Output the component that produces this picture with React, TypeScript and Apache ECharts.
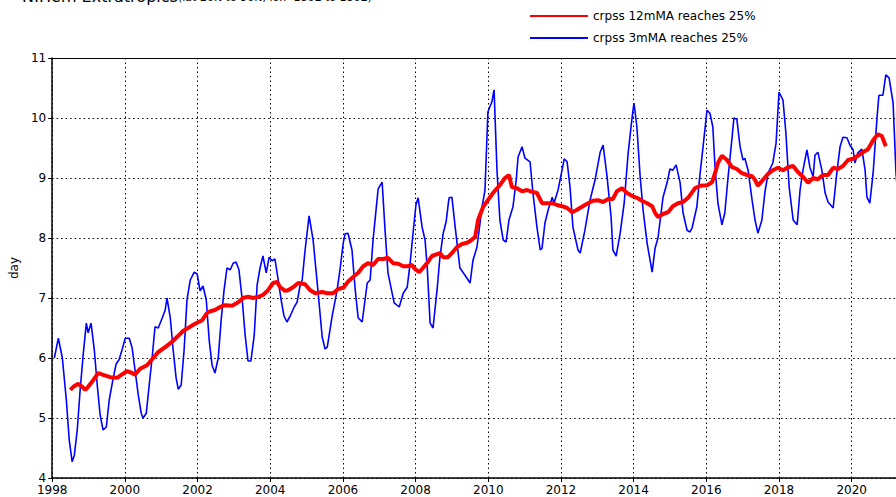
import React, { useEffect, useRef } from "react";
import * as echarts from "echarts";

const xTicks = [1998, 2000, 2002, 2004, 2006, 2008, 2010, 2012, 2014, 2016, 2018, 2020];
const yTicks = [4, 5, 6, 7, 8, 9, 10, 11];

const blueYears = [
  1998.06, 1998.17, 1998.28, 1998.39, 1998.47, 1998.55, 1998.61, 1998.69, 1998.77, 1998.85, 1998.94, 1998.99,
  1999.07, 1999.16, 1999.24, 1999.32, 1999.4, 1999.49, 1999.57, 1999.68, 1999.76, 1999.84, 1999.93,
  2000.01, 2000.12, 2000.2, 2000.28, 2000.37, 2000.45, 2000.5, 2000.59, 2000.67, 2000.75, 2000.83, 2000.92,
  2001.03, 2001.11, 2001.16, 2001.25, 2001.33, 2001.41, 2001.47, 2001.55, 2001.63, 2001.71, 2001.8, 2001.91, 2001.99,
  2002.07, 2002.15, 2002.24, 2002.32, 2002.4, 2002.48, 2002.57, 2002.65, 2002.73, 2002.81, 2002.9, 2002.98,
  2003.06, 2003.14, 2003.23, 2003.31, 2003.39, 2003.47, 2003.56, 2003.64, 2003.72, 2003.8, 2003.89, 2003.97,
  2004.05, 2004.13, 2004.22, 2004.3, 2004.38, 2004.46, 2004.55, 2004.66, 2004.74, 2004.82, 2004.88, 2004.96,
  2005.07, 2005.18, 2005.32, 2005.43, 2005.51, 2005.57, 2005.7, 2005.84, 2005.92,
  2006.01, 2006.06, 2006.14, 2006.25, 2006.34, 2006.42, 2006.53, 2006.67, 2006.75, 2006.83, 2006.97,
  2007.08, 2007.16, 2007.24, 2007.41, 2007.55, 2007.66, 2007.77, 2007.85, 2007.93,
  2008.01, 2008.07, 2008.18, 2008.26, 2008.32, 2008.4, 2008.48, 2008.59, 2008.67, 2008.76, 2008.84, 2008.92,
  2009.0, 2009.09, 2009.22, 2009.36, 2009.5, 2009.58, 2009.69, 2009.83, 2009.91, 2009.99,
  2010.1, 2010.16, 2010.24, 2010.32, 2010.41, 2010.49, 2010.57, 2010.68, 2010.77, 2010.82, 2010.93,
  2011.01, 2011.15, 2011.23, 2011.34, 2011.43, 2011.48, 2011.56, 2011.65, 2011.76, 2011.81, 2011.92,
  2012.03, 2012.09, 2012.17, 2012.25, 2012.33, 2012.47, 2012.53, 2012.66, 2012.8, 2012.94,
  2013.08, 2013.16, 2013.27, 2013.38, 2013.43, 2013.52, 2013.63, 2013.74, 2013.85, 2013.96,
  2014.01, 2014.09, 2014.18, 2014.26, 2014.37, 2014.51, 2014.59, 2014.67, 2014.81, 2014.92,
  2015.0, 2015.08, 2015.17, 2015.28, 2015.36, 2015.47, 2015.55, 2015.61, 2015.74, 2015.83, 2015.91,
  2016.02, 2016.1, 2016.18, 2016.24, 2016.32, 2016.43, 2016.51, 2016.6, 2016.71, 2016.76, 2016.84, 2016.93,
  2017.01, 2017.06, 2017.15, 2017.26, 2017.34, 2017.42, 2017.53, 2017.61, 2017.7, 2017.83, 2017.92,
  2018.0, 2018.11, 2018.19, 2018.28, 2018.39, 2018.5, 2018.58, 2018.66, 2018.77, 2018.85, 2018.94, 2018.99,
  2019.07, 2019.18, 2019.27, 2019.35, 2019.49, 2019.6, 2019.68, 2019.76, 2019.87, 2019.95,
  2020.04, 2020.09, 2020.17, 2020.28, 2020.37, 2020.42, 2020.5, 2020.59, 2020.7, 2020.75, 2020.86, 2020.94,
  2021.03, 2021.14, 2021.22, 2021.3,
];
const blueValues = [
  6.0, 6.33, 6.0, 5.3, 4.63, 4.27, 4.38, 4.8, 5.47, 6.03, 6.58, 6.42,
  6.58, 6.13, 5.55, 5.05, 4.8, 4.85, 5.3, 5.67, 5.9, 5.97, 6.15,
  6.33, 6.33, 6.17, 5.8, 5.38, 5.08, 5.0, 5.08, 5.55, 6.0, 6.52, 6.5,
  6.67, 6.8, 7.0, 6.67, 6.13, 5.67, 5.48, 5.55, 6.13, 6.97, 7.3, 7.43, 7.4,
  7.12, 7.2, 6.97, 6.3, 5.88, 5.75, 6.0, 6.63, 7.13, 7.5, 7.47, 7.58,
  7.6, 7.47, 6.97, 6.38, 5.95, 5.95, 6.38, 7.22, 7.5, 7.7, 7.42, 7.68,
  7.62, 7.65, 7.3, 6.97, 6.7, 6.6, 6.7, 6.85, 6.93, 7.2, 7.3, 7.8,
  8.37, 7.97, 7.08, 6.35, 6.15, 6.18, 6.68, 7.13, 7.47,
  7.92, 8.07, 8.08, 7.8, 7.13, 6.67, 6.6, 7.25, 7.3, 7.97, 8.82,
  8.93, 8.13, 7.42, 6.92, 6.85, 7.08, 7.18, 7.58, 8.08,
  8.55, 8.67, 8.18, 7.97, 7.52, 6.58, 6.5, 7.13, 7.68, 8.08, 8.27, 8.67,
  8.68, 8.18, 7.5, 7.38, 7.25, 7.63, 7.85, 8.52, 8.8, 10.1,
  10.27, 10.47, 9.13, 8.3, 7.97, 7.93, 8.3, 8.52, 8.97, 9.35, 9.52,
  9.33, 9.27, 8.75, 8.18, 7.8, 7.83, 8.25, 8.47, 8.68, 8.58, 8.8,
  9.13, 9.32, 9.27, 8.85, 8.18, 7.8, 7.75, 8.13, 8.63, 8.97,
  9.43, 9.55, 9.02, 8.35, 7.8, 7.7, 8.08, 8.58, 9.42, 10.02,
  10.25, 9.85, 9.02, 8.47, 7.92, 7.43, 7.83, 8.0, 8.68, 8.92,
  9.15, 9.13, 9.22, 8.92, 8.42, 8.13, 8.1, 8.17, 8.52, 9.08, 9.52,
  10.13, 10.08, 9.85, 9.18, 8.58, 8.22, 8.42, 9.02, 9.68, 10.0, 9.98, 9.52,
  9.3, 9.33, 9.13, 8.63, 8.3, 8.08, 8.3, 8.75, 9.08, 9.25, 9.58,
  10.43, 10.3, 9.75, 8.85, 8.3, 8.22, 8.8, 9.13, 9.47, 9.18, 9.02, 9.38,
  9.43, 9.13, 8.75, 8.6, 8.5, 9.13, 9.52, 9.68, 9.67, 9.55,
  9.47, 9.25, 9.42, 9.48, 9.13, 8.68, 8.58, 9.08, 10.02, 10.38, 10.38, 10.72,
  10.67, 10.25, 9.08, 8.5,
];

const redYears = [
  1998.5, 1998.58, 1998.72, 1998.83, 1998.91, 1998.99, 1999.13, 1999.27, 1999.4, 1999.6, 1999.79, 1999.93,
  2000.06, 2000.2, 2000.28, 2000.42, 2000.61, 2000.78, 2000.92, 2001.11, 2001.3, 2001.47, 2001.6, 2001.74, 2001.93,
  2002.13, 2002.26, 2002.35, 2002.48, 2002.62, 2002.76, 2002.95, 2003.12, 2003.25, 2003.39, 2003.53, 2003.67, 2003.8, 2003.94,
  2004.08, 2004.19, 2004.27, 2004.41, 2004.49, 2004.63, 2004.77, 2004.96, 2005.1, 2005.24, 2005.43, 2005.57, 2005.73, 2005.87,
  2006.01, 2006.14, 2006.28, 2006.42, 2006.56, 2006.69, 2006.83, 2006.97, 2007.11, 2007.24, 2007.38, 2007.52, 2007.66, 2007.79, 2007.9, 2007.99,
  2008.1, 2008.23, 2008.34, 2008.45, 2008.59, 2008.67, 2008.76, 2008.89, 2009.03, 2009.14, 2009.28, 2009.42, 2009.55, 2009.64, 2009.72, 2009.86, 2009.99,
  2010.13, 2010.32, 2010.46, 2010.57, 2010.65, 2010.79, 2010.93, 2011.07, 2011.2, 2011.34, 2011.48, 2011.62, 2011.76, 2011.89,
  2012.03, 2012.17, 2012.31, 2012.44, 2012.58, 2012.72, 2012.88, 2013.02, 2013.16, 2013.3, 2013.43, 2013.54, 2013.68, 2013.82, 2013.96,
  2014.09, 2014.23, 2014.37, 2014.51, 2014.59, 2014.67, 2014.81, 2014.95, 2015.08, 2015.22, 2015.36, 2015.5, 2015.69, 2015.83,
  2016.02, 2016.16, 2016.24, 2016.32, 2016.43, 2016.57, 2016.71, 2016.84, 2016.98, 2017.12, 2017.26, 2017.34, 2017.42, 2017.56, 2017.7, 2017.83, 2017.97,
  2018.11, 2018.25, 2018.39, 2018.52, 2018.66, 2018.8, 2018.94, 2019.07, 2019.21, 2019.35, 2019.49, 2019.62, 2019.76, 2019.9,
  2020.04, 2020.17, 2020.31, 2020.45, 2020.59, 2020.72, 2020.83, 2020.94,
];
const redValues = [
  5.47, 5.52, 5.57, 5.52, 5.47, 5.52, 5.63, 5.75, 5.72, 5.68, 5.67, 5.73,
  5.78, 5.75, 5.72, 5.82, 5.88, 6.0, 6.1, 6.18, 6.27, 6.37, 6.45, 6.5, 6.57,
  6.63, 6.75, 6.78, 6.8, 6.85, 6.88, 6.87, 6.93, 7.0, 7.02, 7.0, 7.02, 7.05, 7.13,
  7.25, 7.27, 7.18, 7.12, 7.13, 7.18, 7.25, 7.23, 7.13, 7.08, 7.1, 7.08, 7.08, 7.15,
  7.17, 7.27, 7.35, 7.42, 7.53, 7.58, 7.55, 7.65, 7.65, 7.67, 7.58, 7.57, 7.53, 7.53, 7.55, 7.48,
  7.43, 7.52, 7.6, 7.7, 7.73, 7.75, 7.68, 7.68, 7.77, 7.85, 7.9, 7.92, 7.97, 8.02, 8.3, 8.52, 8.63,
  8.75, 8.88, 9.0, 9.05, 8.85, 8.83, 8.78, 8.8, 8.77, 8.75, 8.58, 8.58, 8.58, 8.55,
  8.53, 8.5, 8.43, 8.47, 8.52, 8.57, 8.62, 8.63, 8.6, 8.65, 8.65, 8.78, 8.83, 8.75, 8.7,
  8.67, 8.62, 8.58, 8.53, 8.42, 8.35, 8.4, 8.43, 8.53, 8.58, 8.6, 8.67, 8.83, 8.87,
  8.88, 8.93, 9.08, 9.25, 9.37, 9.3, 9.18, 9.15, 9.08, 9.05, 9.03, 8.97, 8.87, 8.97, 9.07, 9.13, 9.17,
  9.13, 9.18, 9.2, 9.1, 9.02, 8.92, 9.0, 8.98, 9.05, 9.05, 9.17, 9.15, 9.2, 9.3,
  9.32, 9.37, 9.43, 9.48, 9.63, 9.73, 9.7, 9.53,
];

const FONT = "DejaVu Sans";

export default function App() {
  const ref = useRef<HTMLDivElement>(null);
  useEffect(() => {
    if (!ref.current) return;
    const chart = echarts.init(ref.current, null, { renderer: "svg" });
    const blue = blueYears.map((y, i) => [y, blueValues[i]]);
    const red = redYears.map((y, i) => [y, redValues[i]]);
    const dotted = { color: "#000", width: 1, type: [1.5, 3] as number[] };
    chart.setOption({
      animation: false,
      backgroundColor: "#fff",
      textStyle: { fontFamily: FONT },
      grid: { left: 52, right: 0, top: 58, bottom: 19, containLabel: false },
      legend: {
        orient: "vertical",
        left: 524,
        top: 5,
        itemWidth: 58,
        itemHeight: 14,
        itemGap: 10,
        itemStyle: { opacity: 0 },
        textStyle: { fontFamily: FONT, fontSize: 12, color: "#000" },
        data: ["crpss 12mMA reaches 25%", "crpss 3mMA reaches 25%"],
      },
      graphic: [
        {
          type: "text",
          left: 22,
          top: -12,
          style: { text: "N.Hem Extratropics", fontFamily: FONT, fontSize: 16, fill: "#000" },
        },
        {
          type: "text",
          left: 178,
          top: -8,
          style: { text: "(lat 20N to 90N, lon -180E to 180E)", fontFamily: FONT, fontSize: 11, fill: "#000" },
        },
      ],
      xAxis: [
        {
          type: "value",
          min: 1998,
          max: 2021.22,
          interval: 2,
          position: "bottom",
          axisLine: { show: true, lineStyle: { color: "#000", width: 1.5 } },
          axisTick: { show: true, length: 4, lineStyle: { color: "#000" } },
          axisLabel: {
            color: "#000",
            fontSize: 12,
            fontFamily: FONT,
            margin: 6,
            showMaxLabel: false,
            formatter: (v: number) => (xTicks.includes(v) ? String(v) : ""),
          },
          splitLine: { show: true, lineStyle: dotted },
        },
        {
          type: "value",
          min: 1998,
          max: 2021.22,
          position: "top",
          axisLine: { show: true, onZero: false, lineStyle: { color: "#000", width: 1.2 } },
          axisTick: { show: false },
          axisLabel: { show: false },
          splitLine: { show: false },
        },
      ],
      yAxis: {
        type: "value",
        min: yTicks[0],
        max: yTicks[yTicks.length - 1],
        interval: 1,
        name: "day",
        nameLocation: "middle",
        nameGap: 29,
        nameRotate: 90,
        nameTextStyle: { color: "#000", fontSize: 12, fontFamily: FONT },
        axisLine: { show: true, lineStyle: { color: "#000", width: 1.5 } },
        axisTick: { show: true, length: 4, lineStyle: { color: "#000" } },
        axisLabel: { color: "#000", fontSize: 12, fontFamily: FONT, margin: 6 },
        splitLine: { show: true, lineStyle: dotted },
      },
      series: [
        {
          name: "crpss 12mMA reaches 25%",
          type: "line",
          data: red,
          symbol: "none",
          smooth: false,
          z: 3,
          lineStyle: { color: "#ff0000", width: 4 },
          itemStyle: { color: "#ff0000" },
        },
        {
          name: "crpss 3mMA reaches 25%",
          type: "line",
          data: blue,
          symbol: "none",
          smooth: false,
          z: 2,
          lineStyle: { color: "#0000ff", width: 1.6 },
          itemStyle: { color: "#0000ff" },
        },
      ],
    });
    return () => chart.dispose();
  }, []);
  return (
    <div
      ref={ref}
      style={{ position: "fixed", left: 0, top: 0, width: 896, height: 497, background: "#fff" }}
    />
  );
}
